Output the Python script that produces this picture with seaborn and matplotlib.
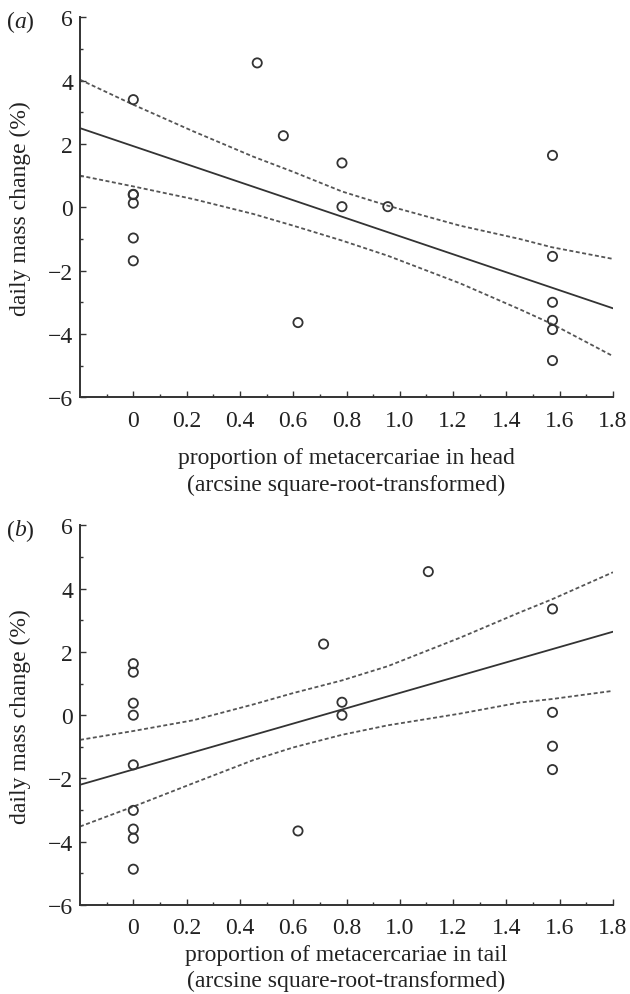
import matplotlib
matplotlib.use("Agg")
import matplotlib.pyplot as plt
import seaborn as sns
import pandas as pd

# panel (a): head
head_x = [0, 0, 0, 0, 0, 0, 0.465, 0.563, 0.618, 0.783, 0.783, 0.955,
          1.573, 1.573, 1.573, 1.573, 1.573, 1.573]
head_y = [3.40, 0.41, 0.40, 0.13, -0.97, -1.69, 4.56, 2.26, -3.64, 1.40, 0.02, 0.02,
          1.64, -1.55, -3.00, -3.57, -3.86, -4.84]
# panel (b): tail
tail_x = [0, 0, 0, 0, 0, 0, 0, 0, 0, 0.618, 0.714, 0.783, 0.783, 1.107,
          1.573, 1.573, 1.573, 1.573]
tail_y = [1.63, 1.36, 0.38, 0.00, -1.57, -3.01, -3.60, -3.89, -4.87, -3.66, 2.25, 0.41, 0.00, 4.54,
          3.36, 0.09, -0.98, -1.72]

# fitted line and confidence limits
fit_x = [-0.2, 1.8]
head_fit = [2.50, -3.19]
tail_fit = [-2.20, 2.64]
ci_x = [-0.2, 0.0, 0.225, 0.45, 0.6, 0.783, 0.955, 1.226, 1.45, 1.57, 1.8]
head_upper = [4.03, 3.24, 2.40, 1.60, 1.12, 0.50, 0.05, -0.58, -1.00, -1.26, -1.63]
head_lower = [1.00, 0.66, 0.26, -0.21, -0.58, -1.05, -1.53, -2.40, -3.22, -3.68, -4.70]
tail_upper = [-0.78, -0.50, -0.16, 0.34, 0.70, 1.10, 1.55, 2.45, 3.25, 3.66, 4.52]
tail_lower = [-3.52, -2.89, -2.15, -1.42, -1.02, -0.62, -0.32, 0.05, 0.40, 0.51, 0.77]

xticks = [0, 0.2, 0.4, 0.6, 0.8, 1.0, 1.2, 1.4, 1.6, 1.8]
xticklabels = ["0", "0.2", "0.4", "0.6", "0.8", "1.0", "1.2", "1.4", "1.6", "1.8"]
xminor = [-0.1, 0.1, 0.3, 0.5, 0.7, 0.9, 1.1, 1.3, 1.5, 1.7]
yticks = [-6, -4, -2, 0, 2, 4, 6]
yminor = [-5, -3, -1, 1, 3, 5]

sns.set_theme(style="ticks")
plt.rcParams["font.family"] = ["Liberation Serif", "DejaVu Serif"]
plt.rcParams["axes.unicode_minus"] = True

ink = "#333333"
txt = "#222222"
fs = 17
fig = plt.figure(figsize=(6.3, 9.95), dpi=100)
ax_a = fig.add_axes([0.127, 0.5997, 0.846, 0.3819])
ax_b = fig.add_axes([0.127, 0.0895, 0.846, 0.3814])

panels = [
    (ax_a, head_x, head_y, head_fit, head_upper, head_lower, "a",
     "proportion of metacercariae in head\n(arcsine square-root-transformed)", 12),
    (ax_b, tail_x, tail_y, tail_fit, tail_upper, tail_lower, "b",
     "proportion of metacercariae in tail\n(arcsine square-root-transformed)", 4),
]

for ax, px, py, fit, up, lo, letter, xlabel, pad in panels:
    pts = pd.DataFrame({"x": px, "y": py})
    sns.lineplot(x=fit_x, y=fit, ax=ax, color=ink, lw=1.3)
    for band in (up, lo):
        sns.lineplot(x=ci_x, y=band, ax=ax, color="#555555", lw=1.3,
                     linestyle=(0, (2.2, 1.4)))
    sns.scatterplot(data=pts, x="x", y="y", ax=ax, marker="o", s=44,
                    facecolor="none", edgecolor=ink, linewidth=1.3, zorder=3)

    ax.set_xlim(-0.2, 1.8)
    ax.set_ylim(-6, 6)
    ax.set_xticks(xticks)
    ax.set_xticklabels(xticklabels)
    ax.set_xticks(xminor, minor=True)
    ax.set_yticks(yticks)
    ax.set_yticks(yminor, minor=True)
    ax.tick_params(which="both", direction="in", colors=ink, labelcolor=txt,
                   labelsize=fs, width=1.0)
    ax.tick_params(which="major", length=4)
    ax.tick_params(axis="x", which="major", pad=9)
    ax.tick_params(axis="y", which="major", pad=5)
    ax.tick_params(which="minor", length=2.5)
    sns.despine(ax=ax)
    for s in ("left", "bottom"):
        ax.spines[s].set_color(ink)
        ax.spines[s].set_linewidth(1.4)
    ax.set_xlabel(xlabel, fontsize=fs, color=txt, labelpad=pad, linespacing=1.3)
    ax.set_ylabel("daily mass change (%)", fontsize=fs, color=txt)
    ax.yaxis.set_label_coords(-0.092, 0.5)

    bbox = ax.get_position()
    y_top = bbox.y1 + 0.006
    fig.text(0.011, y_top, "(", fontsize=fs, color=txt, va="top")
    fig.text(0.0225, y_top, letter, fontsize=fs, color=txt, va="top", style="italic")
    fig.text(0.0395, y_top, ")", fontsize=fs, color=txt, va="top")

fig.savefig("out.png", dpi=100)
